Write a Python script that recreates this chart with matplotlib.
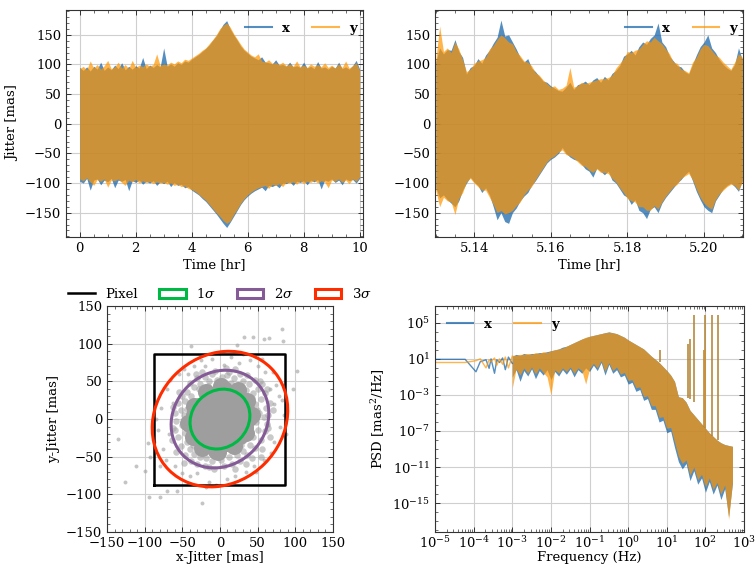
import numpy as np
import matplotlib
matplotlib.use('Agg')
import matplotlib.pyplot as plt
from matplotlib.patches import Ellipse
from matplotlib.lines import Line2D
from matplotlib.ticker import MultipleLocator, LogLocator, NullFormatter

plt.rcParams.update({
    'font.family': 'serif',
    'font.serif': ['DejaVu Serif'],
    'mathtext.fontset': 'dejavuserif',
    'font.size': 9.5,
    'axes.linewidth': 0.8,
    'axes.edgecolor': '#333333',
})

# 配色（x / y 两个方向）
c_x = '#0C5DA5'
c_y = '#FF9500'
c_pts = '#9e9e9e'
sig_colors = ['#00B945', '#845B97', '#FF2C00']

# ---- 全程抖动包络（0-10 hr），单位 mas ----
full_x_hi = [95, 90, 96, 89, 97, 92, 104, 90, 96, 91,
             99, 93, 103, 91, 97, 92, 98, 94, 112, 93,
             99, 95, 100, 96, 128, 97, 101, 97, 103, 100,
             106, 104, 109, 113, 117, 122, 127, 133, 141, 148,
             158, 168, 174, 160, 150, 141, 131, 124, 119, 114,
             111, 108, 113, 104, 103, 101, 108, 99, 100, 97,
             104, 96, 98, 95, 104, 94, 97, 93, 105, 94,
             96, 92, 97, 94, 104, 93, 96, 92, 98, 107, 92]
full_x_lo = [-97, -100, -92, -112, -95, -93, -103, -95, -98, -92,
             -108, -95, -97, -94, -113, -96, -99, -95, -102, -97,
             -100, -96, -104, -98, -101, -97, -106, -99, -104, -102,
             -108, -106, -112, -116, -120, -126, -131, -138, -145, -152,
             -160, -168, -175, -166, -156, -146, -136, -128, -122, -117,
             -113, -110, -107, -113, -104, -106, -103, -108, -100, -101,
             -98, -104, -97, -99, -96, -103, -95, -98, -94, -110,
             -95, -97, -93, -99, -95, -103, -93, -96, -94, -100, -92]
full_y_hi = [93, 97, 91, 106, 94, 100, 92, 98, 107, 93,
             96, 104, 94, 100, 93, 107, 95, 99, 96, 101,
             97, 100, 118, 98, 101, 99, 104, 101, 106, 103,
             109, 107, 111, 115, 119, 124, 128, 135, 142, 150,
             160, 166, 170, 163, 152, 143, 134, 126, 121, 116,
             113, 118, 106, 104, 108, 102, 103, 100, 104, 98,
             101, 97, 106, 96, 99, 95, 101, 97, 100, 96,
             103, 95, 99, 94, 101, 95, 106, 94, 98, 103, 90]
full_y_lo = [-93, -96, -91, -98, -104, -94, -97, -93, -107, -95,
             -96, -93, -99, -104, -95, -98, -94, -100, -96, -99,
             -97, -101, -98, -100, -99, -102, -100, -104, -102, -106,
             -105, -109, -111, -114, -119, -124, -129, -136, -143, -150,
             -156, -163, -168, -164, -153, -144, -134, -126, -120, -115,
             -111, -108, -106, -104, -109, -102, -104, -101, -106, -99,
             -100, -98, -102, -96, -101, -97, -99, -95, -100, -96,
             -98, -108, -95, -97, -93, -99, -95, -101, -93, -97, -90]

# ---- 局部放大（5.13-5.21 hr） ----
zoom_x_hi = [105, 128, 118, 125, 124, 142, 122, 112, 84, 95,
             98, 110, 102, 116, 124, 136, 146, 175, 148, 150,
             138, 126, 112, 104, 110, 94, 88, 80, 72, 70,
             64, 60, 56, 55, 62, 70, 58, 66, 68, 72,
             66, 74, 78, 70, 80, 74, 85, 90, 98, 114,
             118, 124, 116, 130, 138, 134, 144, 150, 170, 138,
             130, 114, 106, 98, 96, 88, 84, 100, 116, 130,
             138, 150, 128, 120, 108, 100, 94, 90, 100, 128, 108]
zoom_x_lo = [-108, -125, -120, -128, -134, -140, -130, -112, -100, -90,
             -98, -104, -116, -108, -120, -140, -162, -150, -165, -168,
             -150, -142, -130, -122, -116, -104, -96, -86, -76, -66,
             -60, -56, -50, -40, -50, -56, -60, -62, -68, -76,
             -80, -90, -75, -80, -86, -80, -95, -100, -110, -120,
             -124, -136, -128, -146, -150, -160, -144, -140, -150, -134,
             -124, -116, -108, -100, -94, -86, -80, -96, -114, -128,
             -140, -146, -150, -130, -120, -110, -104, -100, -106, -114, -96]
zoom_y_hi = [108, 165, 122, 128, 120, 138, 126, 108, 88, 92,
             102, 106, 108, 112, 126, 132, 142, 150, 145, 138,
             135, 122, 115, 106, 104, 98, 86, 82, 74, 68,
             62, 64, 58, 60, 65, 95, 62, 64, 70, 68,
             70, 72, 74, 76, 76, 78, 82, 94, 102, 110,
             122, 120, 124, 126, 134, 140, 138, 146, 140, 135,
             126, 118, 104, 102, 92, 90, 86, 104, 112, 126,
             134, 132, 124, 116, 112, 104, 98, 92, 104, 118, 112]
zoom_y_lo = [-112, -140, -124, -130, -132, -153, -126, -116, -98, -92,
             -100, -106, -112, -112, -124, -136, -150, -146, -152, -150,
             -146, -138, -132, -120, -112, -106, -94, -84, -74, -64,
             -58, -54, -48, -44, -52, -54, -58, -64, -70, -72,
             -78, -82, -76, -82, -82, -84, -92, -98, -108, -116,
             -126, -130, -132, -140, -140, -146, -146, -138, -144, -132,
             -122, -114, -106, -102, -92, -88, -84, -94, -110, -124,
             -134, -140, -144, -128, -118, -112, -106, -102, -104, -112, -98]

# ---- 功率谱密度（取 log10） ----
low_logf = [-5.0, -4.6, -4.22, -3.94, -3.83, -3.68, -3.6, -3.55, -3.46,
            -3.4, -3.33, -3.25, -3.18, -3.1, -3.0]
low_x = [0.95, 0.95, 0.95, -0.43, 0.68, 0.9, -0.05, 1.0, -0.6,
         0.9, 0.6, 1.1, -0.2, 1.2, 0.5]
low_y = [0.6, 0.6, 0.6, 0.8, 1.0, 0.0, 0.9, 0.7, 1.1,
         0.3, 1.0, 0.4, 1.2, 0.0, 1.3]

band_x_hi = [1.3, 1.5, 1.4, 1.6, 1.5, 1.6, 1.6, 1.7, 1.7, 1.8,
             1.9, 2.0, 2.1, 2.3, 2.4, 2.6, 2.8, 3.0, 3.2, 3.35,
             3.5, 3.6, 3.7, 3.8, 3.9, 4.0, 3.9, 3.8, 3.6, 3.4,
             3.1, 2.85, 2.6, 2.35, 2.1, 1.7, 1.3, 0.95, 0.6, 0.15,
             -0.3, -0.8, -1.5, -3.2, -3.3, -3.8, -4.7, -5.2, -5.7, -6.2,
             -6.7, -7.2, -7.6, -8.0, -8.3, -8.5, -8.6, -8.7]
band_x_lo = [-1.0, -0.2, -1.5, -0.3, -0.9, -0.1, -1.2, -0.3, -0.8, -0.2,
             -1.3, -0.4, -0.9, -0.2, -0.7, -0.1, -1.0, -0.2, -0.6, 0.0,
             -0.4, 0.3, -0.3, 0.6, -0.8, 0.4, -0.6, -0.2, -1.0, -0.8,
             -1.8, -1.6, -2.6, -2.4, -3.6, -3.4, -4.6, -4.6, -6.0, -5.8,
             -7.2, -7.0, -8.8, -10.4, -11.2, -10.6, -12.5, -11.4, -12.9, -12.2,
             -13.8, -12.6, -14.0, -13.0, -14.6, -13.4, -16.5, -12.8]
band_y_hi = [1.4, 1.4, 1.5, 1.5, 1.6, 1.5, 1.7, 1.6, 1.8, 1.7,
             1.9, 2.0, 2.1, 2.2, 2.4, 2.6, 2.8, 3.0, 3.2, 3.4,
             3.5, 3.6, 3.7, 3.8, 3.9, 3.95, 3.9, 3.8, 3.6, 3.4,
             3.1, 2.85, 2.6, 2.35, 2.1, 1.7, 1.3, 0.95, 0.6, 0.15,
             -0.3, -0.8, -1.5, -3.2, -3.3, -3.8, -4.7, -5.2, -5.7, -6.2,
             -6.7, -7.2, -7.6, -8.0, -8.3, -8.5, -8.6, -8.7]
band_y_lo = [-2.2, -0.1, -0.8, 0.0, -0.6, 0.1, -0.7, 0.0, -0.5, -1.0,
             -3.0, -0.2, -0.6, 0.0, -0.4, 0.1, -0.6, 0.0, -0.3, -1.8,
             -0.1, 0.5, 0.0, 0.8, -0.4, 0.6, -0.3, 0.1, -0.7, -0.5,
             -1.4, -1.3, -2.2, -2.1, -3.2, -3.1, -4.2, -4.2, -5.5, -5.4,
             -6.7, -6.6, -8.2, -9.8, -10.6, -10.2, -11.9, -11.0, -12.4, -11.8,
             -13.2, -12.2, -13.5, -12.7, -14.0, -13.0, -16.8, -12.6]

spike_f = [6.8, 35, 40, 50, 91, 100, 148, 210]
spike_top = [2.0, 2.7, 3.2, 5.85, 2.0, 5.85, 5.85, 5.85]
spike_base = [0.6, -3.3, -3.5, -3.8, -6.5, -6.7, -7.5, -8.0]

# ---- 焦平面抖动散点 (mas) ----
# 中心密集区
core_x = [-10, 8, 25, -28, -12, 4, 20, 35, -35, -20, -5, 10, 25, 38, -38,
          -24, -9, 6, 21, 33, -33, -18, -3, 12, 26, -20, -5, 10, 5, -5,
          42, 36, 24, 2, -18, -34, -42, -36, -24, -2, 18, 34]
core_y = [30, 32, 26, 18, 18, 18, 16, 14, 5, 5, 5, 5, 4, 2, -8,
          -8, -8, -8, -8, -10, -20, -20, -20, -20, -22, -32, -33, -32, 40, -42,
          5, 24, 38, 44, 36, 18, -5, -24, -38, -44, -36, -18]
# 1σ-2σ 之间
ring_x = [52, 58, 47, 61, 55, 66, 44, 50, 60, 38, 46, 56, 30, 36, 26, 18, 20, 10, 8, 14,
          64, 42, 53, 28, 3, 34, 62, 49, 70, 12,
          -4, -10, -14, -20, -26, -30, -34, -40, -44, -50, -46, -56, -52, -60, -48, -58,
          -24, -38, -62, -16, -6, -32, -54, -44, -28,
          -50, -62, -46, -56, -44, -52, -40, -46, -34, -38, -26, -30, -18, -20, -10, -8,
          -4, -64, -58, -48, -36, -22, -14, -60, -42,
          2, 6, 12, 16, 22, 26, 30, 36, 40, 46, 44, 54, 50, 60, 48, 62, 56, 34, 20, 66,
          42, 28, 54, 64, 38]
ring_y = [8, 3, 20, 15, 27, 22, 35, 40, 35, 46, 52, 46, 50, 58, 60, 54, 66, 58, 68, 48,
          6, 28, 50, 42, 56, 38, 40, 12, 12, 62,
          52, 60, 50, 56, 47, 55, 42, 48, 36, 30, 24, 22, 12, 8, 6, -2,
          62, 30, 16, 44, 64, 60, 36, 14, 40,
          -8, -12, -18, -24, -30, -36, -40, -48, -46, -56, -50, -60, -52, -62, -56, -66,
          -48, -28, -44, -58, -34, -44, -64, -14, -10,
          -54, -62, -50, -60, -48, -56, -42, -48, -34, -38, -24, -28, -14, -16, -4, -6,
          -40, -60, -66, -24, -52, -34, -50, -12, -20]
# 外围稀疏点
far_x = [72, 80, 75, 60, 40, 15, -10, -35, -55, -70, -78, -82, -75, -60,
         -40, -15, 10, 35, 58, 72, 85, 78, 50, 25, -25, -48, -66, -85,
         -72, -50, -5, 20, 45, 68, 82, 70, -88, -62, 64, -30, 30, -20,
         5, -68, 66, 48, -42, 88, 56, -80,
         82, 32, 44, 58, 65, 84, -38, 22, 102, 97, -136, -126, -111,
         -100, -94, -80, -71, -57, -24, -18, -95, -93]
far_y = [20, -10, 45, 62, 78, 82, 80, 70, 60, 40, 15, -15, -40, -62,
         -76, -84, -80, -70, -55, -30, 5, 30, 70, 75, 78, 66, 52, 0,
         -55, -72, -88, -75, -62, -45, 25, 62, -30, 22, -8, -72, 86, 70,
         72, -20, 40, -70, 60, -20, 80, -62,
         120, 109, 109, 106, 107, 104, 97, 99, 64, 40, -27, -84, -62,
         -69, -103, -103, -95, -95, -112, -90, -32, -50]

pixel_half = 87
sig_labels = [r'$1\sigma$', r'$2\sigma$', r'$3\sigma$']
ell_width = [84.0, 137.2, 191.6]
ell_height = [74.6, 121.8, 167.6]
ell_angle = 45


def style(ax):
    ax.grid(True, color='#cfcfcf', lw=0.8)
    ax.set_axisbelow(True)
    ax.minorticks_on()
    ax.tick_params(which='both', direction='in', top=True, right=True, colors='#333333',
                   labelcolor='black')
    ax.tick_params(which='major', length=3.5, width=0.7)
    ax.tick_params(which='minor', length=2, width=0.5)


def xy_legend(ax, loc, anchor):
    h = [Line2D([], [], color=c_x, alpha=0.7, lw=1.5),
         Line2D([], [], color=c_y, alpha=0.7, lw=1.5)]
    ax.legend(h, ['x', 'y'], loc=loc, bbox_to_anchor=anchor, ncol=2, frameon=False,
              columnspacing=1.7, prop={'weight': 'bold'})


fig = plt.figure(figsize=(7.55, 5.69), dpi=100)
ax1 = fig.add_axes([0.0874, 0.5835, 0.3934, 0.399])
ax2 = fig.add_axes([0.5762, 0.5835, 0.408, 0.399])
ax3 = fig.add_axes([0.1417, 0.065, 0.2993, 0.397])
ax4 = fig.add_axes([0.5762, 0.065, 0.4093, 0.397])

# 全程时间序列
t_full = np.linspace(0, 10, len(full_x_hi))
ax1.fill_between(t_full, full_x_lo, full_x_hi, color=c_x, alpha=0.7, lw=0)
ax1.fill_between(t_full, full_y_lo, full_y_hi, color=c_y, alpha=0.7, lw=0)
ax1.set_xlim(-0.49, 10.12)
ax1.set_ylim(-191, 192)
ax1.xaxis.set_major_locator(MultipleLocator(2))
ax1.yaxis.set_major_locator(MultipleLocator(50))
ax1.set_xlabel('Time [hr]', labelpad=2)
ax1.set_ylabel('Jitter [mas]')
style(ax1)
xy_legend(ax1, 'upper right', (1.02, 1.0))

# 局部放大
t_zoom = np.linspace(5.13, 5.21, len(zoom_x_hi))
ax2.fill_between(t_zoom, zoom_x_lo, zoom_x_hi, color=c_x, alpha=0.7, lw=0)
ax2.fill_between(t_zoom, zoom_y_lo, zoom_y_hi, color=c_y, alpha=0.7, lw=0)
ax2.set_xlim(5.1298, 5.2102)
ax2.set_ylim(-191, 192)
ax2.set_xticks([5.14, 5.16, 5.18, 5.20])
ax2.set_xticklabels(['5.14', '5.16', '5.18', '5.20'])
ax2.yaxis.set_major_locator(MultipleLocator(50))
ax2.set_xlabel('Time [hr]', labelpad=2)
style(ax2)
xy_legend(ax2, 'upper right', (1.02, 1.0))

# 散点与置信椭圆
ax3.scatter(far_x, far_y, s=8, color=c_pts, alpha=0.6, lw=0, zorder=2)
ax3.scatter(ring_x, ring_y, s=22, color=c_pts, alpha=0.55, lw=0, zorder=2)
ax3.scatter(core_x, core_y, s=150, color=c_pts, lw=0, zorder=2)
ax3.plot([-pixel_half, pixel_half, pixel_half, -pixel_half, -pixel_half],
         [-pixel_half, -pixel_half, pixel_half, pixel_half, -pixel_half],
         color='black', lw=1.8, label='Pixel', zorder=3)
for w, h, c, lab in zip(ell_width, ell_height, sig_colors, sig_labels):
    ax3.add_patch(Ellipse((0, 0), w, h, angle=ell_angle, facecolor='none',
                          edgecolor=c, lw=2.2, label=lab, zorder=4))
ax3.set_xlim(-150, 150)
ax3.set_ylim(-150, 150)
ax3.set_aspect('equal')
ax3.xaxis.set_major_locator(MultipleLocator(50))
ax3.yaxis.set_major_locator(MultipleLocator(50))
ax3.set_xlabel('x-Jitter [mas]', labelpad=1)
ax3.set_ylabel('y-Jitter [mas]')
style(ax3)
ax3.legend(loc='lower center', bbox_to_anchor=(0.5, 1.0), ncol=4, frameon=False,
           borderaxespad=0, columnspacing=1.6)

# PSD
f_band = 10 ** np.linspace(-3.0, 2.7, len(band_x_hi))
f_low = 10 ** np.array(low_logf)
ax4.plot(f_low, 10 ** np.array(low_x), color=c_x, alpha=0.7, lw=1)
ax4.plot(f_low, 10 ** np.array(low_y), color=c_y, alpha=0.7, lw=1)
ax4.fill_between(f_band, 10 ** np.array(band_x_lo), 10 ** np.array(band_x_hi),
                 color=c_x, alpha=0.7, lw=0)
ax4.fill_between(f_band, 10 ** np.array(band_y_lo), 10 ** np.array(band_y_hi),
                 color=c_y, alpha=0.7, lw=0)
for c in (c_x, c_y):
    ax4.vlines(spike_f, 10 ** np.array(spike_base), 10 ** np.array(spike_top),
               color=c, alpha=0.7, lw=1.1)
ax4.set_xscale('log')
ax4.set_yscale('log')
ax4.set_xlim(1e-5, 1e3)
ax4.set_ylim(10 ** -18.2, 10 ** 6.85)
ax4.set_xlabel('Frequency (Hz)', labelpad=0)
ax4.set_ylabel('PSD [mas$^2$/Hz]')
style(ax4)
ax4.xaxis.set_major_locator(LogLocator(base=10, numticks=20))
ax4.xaxis.set_minor_locator(LogLocator(base=10, subs=np.arange(2, 10), numticks=100))
ax4.xaxis.set_minor_formatter(NullFormatter())
ax4.set_yticks([1e-15, 1e-11, 1e-7, 1e-3, 1e1, 1e5])
ax4.yaxis.set_minor_locator(LogLocator(base=10, subs=(1.0,), numticks=40))
ax4.yaxis.set_minor_formatter(NullFormatter())
ax4.tick_params(axis='x', pad=2)
xy_legend(ax4, 'upper left', None)

fig.savefig('out.png', dpi=100)
